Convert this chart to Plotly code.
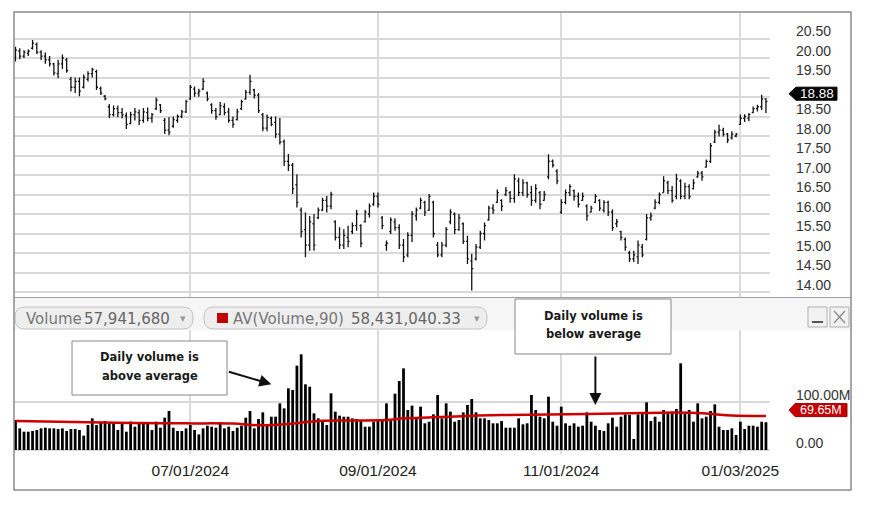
import pandas as pd
import plotly.graph_objects as go

# ---------------- data ----------------
market_holidays = ["2024-05-27", "2024-06-19", "2024-07-04", "2024-09-02",
                   "2024-11-28", "2024-12-25", "2025-01-01", "2025-01-09"]
sessions = [d.strftime("%Y-%m-%d") for d in pd.bdate_range("2024-05-01", "2025-01-14")
            if d.strftime("%Y-%m-%d") not in market_holidays]

opens = [
    20.00, 20.18, 20.05, 20.12, 20.25, 20.35, 20.15, 20.05, 19.95, 19.85,
    19.60, 19.85, 19.95, 19.45, 19.25, 19.40, 19.25, 19.45, 19.60, 19.65,
    19.22, 19.02, 18.75, 18.55, 18.70, 18.60, 18.52, 18.32, 18.55, 18.60,
    18.40, 18.60, 18.45, 18.70, 18.80, 18.40, 18.15, 18.25, 18.40, 18.50,
    18.62, 18.95, 19.20, 19.10, 19.20, 19.10, 18.80, 18.65, 18.55, 18.75,
    18.62, 18.40, 18.42, 18.70, 18.95, 19.12, 19.18, 19.05, 18.55, 18.20,
    18.45, 18.35, 18.05, 17.85, 17.35, 17.25, 16.75, 16.10, 15.60, 15.20,
    15.75, 15.90, 16.10, 16.35, 16.20, 15.80, 15.40, 15.20, 15.40, 15.55,
    15.70, 15.70, 15.80, 16.00, 16.25, 16.45, 15.90, 15.20, 15.55, 15.80,
    15.65, 15.20, 14.95, 15.45, 15.95, 16.15, 16.30, 16.10, 16.30, 15.20,
    14.95, 15.20, 15.80, 16.00, 15.60, 15.75, 15.30, 14.80, 14.85, 15.15,
    15.50, 15.85, 16.15, 16.30, 16.35, 16.50, 16.55, 16.40, 16.85, 16.55,
    16.80, 16.55, 16.35, 16.55, 16.35, 16.95, 17.35, 17.10, 16.05, 16.30,
    16.55, 16.60, 16.45, 16.35, 16.20, 16.05, 16.30, 16.35, 16.10, 16.30,
    16.05, 15.75, 15.55, 15.35, 15.00, 14.85, 14.90, 15.15, 15.35, 15.90,
    16.15, 16.30, 16.55, 16.80, 16.60, 16.45, 16.85, 16.45, 16.70, 16.65,
    16.95, 17.05, 17.20, 17.35, 17.85, 18.10, 18.15, 18.05, 17.95, 18.00,
    18.30, 18.45, 18.45, 18.60, 18.70, 18.75, 18.95]

highs = [
    20.29, 20.25, 20.20, 20.22, 20.46, 20.40, 20.20, 20.14, 20.05, 19.88,
    19.95, 20.09, 20.00, 19.52, 19.50, 19.50, 19.58, 19.66, 19.75, 19.70,
    19.27, 19.05, 18.82, 18.78, 18.78, 18.72, 18.60, 18.62, 18.72, 18.68,
    18.72, 18.73, 18.59, 18.99, 18.82, 18.46, 18.48, 18.50, 18.55, 18.67,
    18.93, 19.31, 19.27, 19.21, 19.48, 19.14, 18.84, 18.72, 18.87, 18.84,
    18.72, 18.50, 18.70, 18.93, 19.18, 19.57, 19.21, 19.10, 18.59, 18.55,
    18.50, 18.50, 18.46, 17.91, 17.54, 17.31, 17.02, 16.17, 16.04, 15.95,
    16.00, 16.17, 16.42, 16.46, 16.57, 15.84, 15.66, 15.61, 15.70, 15.78,
    16.10, 15.74, 16.10, 16.27, 16.55, 16.55, 15.95, 15.32, 15.91, 15.89,
    15.74, 15.36, 15.53, 16.08, 16.17, 16.42, 16.34, 16.51, 16.34, 15.28,
    15.28, 15.67, 16.12, 16.04, 16.00, 15.78, 15.44, 14.98, 15.23, 15.57,
    15.78, 16.21, 16.25, 16.63, 16.38, 16.69, 16.59, 17.02, 16.93, 16.89,
    16.83, 16.72, 16.76, 16.59, 16.59, 17.53, 17.40, 17.15, 16.38, 16.63,
    16.76, 16.63, 16.55, 16.55, 16.25, 16.21, 16.51, 16.38, 16.35, 16.34,
    16.12, 15.87, 15.57, 15.40, 15.06, 15.06, 15.32, 15.23, 16.00, 16.04,
    16.38, 16.55, 16.97, 16.85, 16.72, 17.03, 16.89, 16.80, 16.76, 16.89,
    17.10, 17.10, 17.40, 17.82, 18.16, 18.29, 18.21, 18.08, 18.12, 18.08,
    18.55, 18.56, 18.59, 18.76, 18.80, 19.06, 18.97]

lows = [
    19.91, 19.97, 20.00, 20.05, 20.22, 20.10, 19.95, 19.85, 19.78, 19.55,
    19.48, 19.72, 19.62, 19.14, 19.10, 19.02, 19.22, 19.40, 19.50, 19.18,
    19.05, 18.92, 18.46, 18.50, 18.48, 18.45, 18.18, 18.30, 18.40, 18.28,
    18.34, 18.38, 18.34, 18.67, 18.59, 18.05, 18.02, 18.21, 18.34, 18.46,
    18.59, 18.93, 19.01, 19.01, 19.18, 18.89, 18.57, 18.42, 18.53, 18.53,
    18.34, 18.21, 18.40, 18.67, 18.93, 19.06, 18.96, 18.59, 18.12, 18.12,
    18.25, 17.95, 17.78, 17.23, 17.10, 16.51, 16.17, 15.40, 14.89, 15.06,
    15.06, 15.87, 16.08, 16.04, 16.12, 15.32, 15.10, 15.10, 15.15, 15.49,
    15.57, 15.15, 15.78, 15.91, 16.21, 16.17, 15.61, 15.06, 15.49, 15.57,
    15.10, 14.77, 14.89, 15.28, 15.83, 16.12, 15.95, 16.08, 15.40, 14.89,
    14.89, 15.15, 15.74, 15.49, 15.57, 15.23, 14.72, 14.04, 14.81, 15.10,
    15.32, 15.83, 16.00, 16.29, 16.08, 16.46, 16.29, 16.29, 16.46, 16.46,
    16.42, 16.21, 16.29, 16.12, 16.34, 16.89, 17.19, 16.76, 16.00, 16.25,
    16.46, 16.34, 16.17, 16.34, 15.83, 16.04, 16.29, 16.08, 16.04, 15.95,
    15.57, 15.66, 15.32, 15.06, 14.77, 14.77, 14.72, 14.89, 15.32, 15.83,
    16.12, 16.25, 16.55, 16.51, 16.29, 16.38, 16.38, 16.38, 16.38, 16.63,
    16.93, 16.85, 17.19, 17.31, 17.82, 17.99, 17.99, 17.82, 17.91, 17.97,
    18.29, 18.36, 18.38, 18.59, 18.63, 18.67, 18.59]

closes = [
    20.20, 20.05, 20.15, 20.18, 20.38, 20.15, 20.05, 19.95, 19.85, 19.62,
    19.85, 20.00, 19.68, 19.25, 19.40, 19.15, 19.50, 19.60, 19.70, 19.25,
    19.10, 18.95, 18.55, 18.70, 18.60, 18.55, 18.30, 18.55, 18.62, 18.40,
    18.62, 18.45, 18.55, 18.92, 18.65, 18.15, 18.10, 18.42, 18.50, 18.62,
    18.88, 19.25, 19.10, 19.15, 19.40, 18.95, 18.65, 18.50, 18.78, 18.60,
    18.40, 18.30, 18.62, 18.88, 19.12, 19.40, 19.05, 18.65, 18.20, 18.48,
    18.30, 18.05, 17.85, 17.35, 17.25, 16.65, 16.30, 15.55, 15.20, 15.80,
    15.20, 16.10, 16.35, 16.20, 16.50, 15.40, 15.20, 15.45, 15.30, 15.70,
    16.00, 15.25, 16.05, 16.20, 16.45, 16.25, 15.70, 15.25, 15.85, 15.65,
    15.20, 14.90, 15.45, 16.00, 16.10, 16.35, 16.05, 16.45, 15.50, 14.95,
    15.20, 15.60, 16.05, 15.60, 15.90, 15.30, 14.85, 14.60, 15.15, 15.50,
    15.70, 16.15, 16.10, 16.55, 16.20, 16.60, 16.40, 16.90, 16.55, 16.80,
    16.50, 16.35, 16.65, 16.25, 16.50, 17.35, 17.25, 16.85, 16.30, 16.55,
    16.70, 16.45, 16.25, 16.45, 15.95, 16.15, 16.45, 16.15, 16.30, 16.05,
    15.65, 15.80, 15.40, 15.15, 14.85, 14.95, 15.20, 14.95, 15.90, 15.95,
    16.30, 16.50, 16.85, 16.60, 16.35, 16.90, 16.45, 16.70, 16.45, 16.80,
    17.05, 16.95, 17.35, 17.75, 18.10, 18.15, 18.05, 17.90, 18.05, 18.05,
    18.45, 18.50, 18.55, 18.70, 18.75, 18.95, 18.88]

volume_m = [
    62.5, 45.1, 38.2, 38.2, 39.6, 41.7, 45.1, 46.5, 45.1, 45.1,
    43.8, 45.1, 39.6, 43.8, 43.8, 41.7, 29.9, 52.1, 66.0, 52.1,
    59.0, 60.4, 55.6, 55.6, 41.7, 55.6, 38.2, 59.0, 48.6, 57.6,
    57.6, 55.6, 41.7, 59.0, 46.5, 67.4, 81.3, 46.5, 39.6, 39.6,
    45.1, 52.1, 41.7, 32.6, 45.1, 50.7, 48.6, 46.5, 57.6, 45.1,
    48.6, 39.6, 46.5, 50.7, 67.4, 81.3, 45.1, 64.6, 78.5, 52.1,
    69.4, 69.4, 97.2, 86.8, 128.5, 125.0, 175.7, 199.3, 136.8, 131.9,
    76.4, 66.0, 60.4, 52.1, 118.1, 79.9, 71.5, 69.4, 69.4, 66.0,
    64.6, 62.5, 48.6, 48.6, 59.0, 60.4, 60.4, 97.2, 62.5, 117.4,
    143.8, 170.1, 83.3, 92.4, 64.6, 90.3, 55.6, 59.0, 74.3, 114.6,
    66.0, 97.2, 79.9, 59.0, 62.5, 78.5, 93.8, 106.3, 78.5, 66.0,
    66.0, 62.5, 55.6, 55.6, 60.4, 46.5, 46.5, 46.5, 66.0, 53.5,
    55.6, 114.6, 83.3, 69.4, 66.0, 111.1, 59.0, 50.7, 90.3, 55.6,
    50.7, 55.6, 48.6, 50.7, 78.5, 59.0, 50.7, 41.7, 39.6, 55.6,
    67.4, 48.6, 69.4, 74.3, 72.9, 22.9, 74.3, 76.4, 99.3, 60.4,
    69.4, 59.0, 83.3, 76.4, 79.9, 85.4, 180.6, 76.4, 83.3, 59.0,
    97.2, 66.0, 69.4, 81.3, 95.1, 48.6, 41.7, 41.7, 45.1, 31.3,
    59.0, 43.8, 50.7, 50.7, 48.6, 59.0, 57.9]

# AV(Volume,90) at a set of sessions
avg_index = [0, 17, 28, 40, 51, 57, 63, 67, 71, 79, 87, 91, 98, 106, 114, 125,
             141, 155, 160, 164, 168, 176]
avg_volume_m = [60.4, 58.0, 56.5, 55.5, 55.0, 51.5, 53.5, 57.0, 60.5, 61.5, 62.5,
                66.0, 68.0, 71.0, 73.0, 74.0, 76.0, 78.0, 77.0, 74.5, 72.0, 70.8]

date_ticks = ["2024-07-01", "2024-09-03", "2024-11-01", "2025-01-03"]
date_tick_labels = ["07/01/2024", "09/01/2024", "11/01/2024", "01/03/2025"]
price_ticks = [14.0, 14.5, 15.0, 15.5, 16.0, 16.5, 17.0, 17.5, 18.0, 18.5,
               19.0, 19.5, 20.0, 20.5]
volume_ticks = [0, 100]
volume_tick_labels = ["0.00", "100.00M"]
last_price = 18.88
last_avg = 69.65
last_avg_label = "69.65M"
header_volume = "57,941,680"
header_avg = "58,431,040.33"
above_target = (60, 137)   # (session index, volume M) the arrow points at
below_target = (136, 94)

# ---------------- geometry helpers (page pixels -> paper) ----------------
W, H = 870, 507
PL, PT, PR, PB = 14, 12, 770, 454


def fx(X):
    return (X - PL) / (PR - PL)


def fy(Y):
    return (PB - Y) / (PB - PT)


def P(X, Y):
    return f"{fx(X):.5f},{fy(Y):.5f}"


def rounded(X0, Y0, X1, Y1, r):
    return (f"M{P(X0 + r, Y0)} L{P(X1 - r, Y0)} Q{P(X1, Y0)} {P(X1, Y0 + r)} "
            f"L{P(X1, Y1 - r)} Q{P(X1, Y1)} {P(X1 - r, Y1)} L{P(X0 + r, Y1)} "
            f"Q{P(X0, Y1)} {P(X0, Y1 - r)} L{P(X0, Y0 + r)} Q{P(X0, Y0)} {P(X0 + r, Y0)} Z")


shapes = []
annotations = []


def rect(X0, Y0, X1, Y1, fill="rgba(0,0,0,0)", line="#888", lw=1):
    shapes.append(dict(type="rect", xref="paper", yref="paper", x0=fx(X0), x1=fx(X1),
                       y0=fy(Y1), y1=fy(Y0), fillcolor=fill,
                       line=dict(color=line, width=lw), layer="above"))


def line(X0, Y0, X1, Y1, color="#999", lw=1):
    shapes.append(dict(type="line", xref="paper", yref="paper", x0=fx(X0), x1=fx(X1),
                       y0=fy(Y0), y1=fy(Y1), line=dict(color=color, width=lw), layer="above"))


def text(X, Y, s, size=13, color="#333", family="DejaVu Sans", anchor="left"):
    annotations.append(dict(xref="paper", yref="paper", x=fx(X), y=fy(Y), text=s,
                            showarrow=False, xanchor=anchor, yanchor="middle",
                            font=dict(family=family, size=size, color=color)))


# ---------------- traces ----------------
fig = go.Figure()
fig.add_trace(go.Ohlc(
    x=sessions, open=opens, high=highs, low=lows, close=closes,
    increasing=dict(line=dict(color="#111111", width=1.3)),
    decreasing=dict(line=dict(color="#111111", width=1.3)),
    tickwidth=0.35, xaxis="x", yaxis="y", showlegend=False, hoverinfo="skip"))
fig.add_trace(go.Bar(
    x=sessions, y=volume_m, marker=dict(color="#000000", line=dict(width=0)),
    xaxis="x2", yaxis="y2", showlegend=False, hoverinfo="skip"))
fig.add_trace(go.Scatter(
    x=[sessions[i] for i in avg_index], y=avg_volume_m, mode="lines",
    line=dict(color="#cc0000", width=2.5, shape="spline", smoothing=1.0),
    xaxis="x2", yaxis="y2", showlegend=False, hoverinfo="skip"))

# ---------------- decorations ----------------
# header band between the panels
rect(14, 297, 851, 330, fill="#f6f6f6", line="rgba(0,0,0,0)", lw=0)
line(14, 297.5, 851, 297.5, color="#a0a0a0", lw=1)
# pills
shapes.append(dict(type="path", xref="paper", yref="paper", path=rounded(15, 307, 193, 329, 10),
                   fillcolor="#eeeeee", line=dict(color="#c4c4c4", width=1), layer="above"))
shapes.append(dict(type="path", xref="paper", yref="paper", path=rounded(204, 307, 487, 329, 10),
                   fillcolor="#eeeeee", line=dict(color="#c4c4c4", width=1), layer="above"))
text(24, 318.5, "Volume", size=15, color="#777777")
text(82, 318.5, header_volume, size=15, color="#666666")
text(183, 318, "▾", size=11, color="#999999", anchor="center")
rect(217, 313, 228, 323, fill="#c00000", line="#c00000", lw=0)
text(231, 318.5, "AV(Volume,90)", size=15, color="#777777")
text(349, 318.5, header_avg, size=15, color="#666666")
text(477, 318, "▾", size=11, color="#999999", anchor="center")
# window buttons
rect(808, 307, 827, 327, fill="#f2f2f2", line="#b0b0b0")
line(812, 322, 823, 322, color="#555555", lw=2)
rect(830, 307, 849, 327, fill="#f2f2f2", line="#b0b0b0")
line(834, 311, 845, 323, color="#888888", lw=1.2)
line(845, 311, 834, 323, color="#888888", lw=1.2)

# callout boxes
rect(72, 341, 227, 395, fill="#ffffff", line="#888888")
text(149.5, 357, "<b>Daily volume is</b>", size=11.5, color="#1a1a1a", anchor="center")
text(149.5, 376, "<b>above average</b>", size=11.5, color="#1a1a1a", anchor="center")
rect(515, 299, 671, 354, fill="#ffffff", line="#888888")
text(593, 316, "<b>Daily volume is</b>", size=11.5, color="#1a1a1a", anchor="center")
text(593, 334, "<b>below average</b>", size=11.5, color="#1a1a1a", anchor="center")
annotations.append(dict(xref="x2", yref="y2", x=sessions[above_target[0]], y=above_target[1],
                        text="", showarrow=True, ax=-44, ay=-13, arrowhead=2, arrowsize=1.2,
                        arrowwidth=2, arrowcolor="#111111", standoff=0))
annotations.append(dict(xref="x2", yref="y2", x=sessions[below_target[0]], y=below_target[1],
                        text="", showarrow=True, ax=0, ay=-50, arrowhead=2, arrowsize=1.2,
                        arrowwidth=2, arrowcolor="#111111", standoff=0))

# last-value tags (the tag hides the 19.00 level label, as in the original)
shapes.append(dict(type="path", xref="paper", yref="y", ysizemode="pixel", yanchor=last_price,
                   path=f"M{fx(789):.5f},8 L{fx(796):.5f},14.5 L{fx(837):.5f},14.5 "
                        f"L{fx(837):.5f},1.5 L{fx(796):.5f},1.5 Z",
                   fillcolor="#000000", line=dict(color="#000000", width=1), layer="above"))
annotations.append(dict(xref="paper", yref="y", x=fx(816.5), y=last_price, yshift=8,
                        text=f"{last_price:.2f}", showarrow=False, xanchor="center",
                        yanchor="middle", font=dict(family="Liberation Sans", size=13.5,
                                                    color="#ffffff")))
shapes.append(dict(type="path", xref="paper", yref="y2", ysizemode="pixel", yanchor=last_avg,
                   path=f"M{fx(789):.5f},6.5 L{fx(795):.5f},13 L{fx(847):.5f},13 "
                        f"L{fx(847):.5f},0 L{fx(795):.5f},0 Z",
                   fillcolor="#c40000", line=dict(color="#a00000", width=1), layer="above"))
annotations.append(dict(xref="paper", yref="y2", x=fx(821), y=last_avg, yshift=6.5,
                        text=last_avg_label, showarrow=False, xanchor="center",
                        yanchor="middle", font=dict(family="Liberation Sans", size=12.5,
                                                    color="#ffffff")))

# outer frame
rect(14, 12, 851, 490, line="#8a8a8a", lw=1.5)

# ---------------- layout ----------------
xcommon = dict(type="category", categoryorder="array", categoryarray=sessions,
               range=[-0.35, 176.95], tickvals=date_ticks, showgrid=True,
               gridcolor="#dcdcdc", gridwidth=2, zeroline=False, showline=False,
               fixedrange=True, rangeslider=dict(visible=False))
ycommon = dict(side="right", showgrid=True, gridcolor="#d9d9d9", gridwidth=1.5,
               zeroline=False, showline=False, ticks="",
               ticklabelposition="outside", ticklabelstandoff=25, ticklabelshift=-7,
               tickfont=dict(family="Liberation Sans", size=14, color="#333333"),
               fixedrange=True)

price_tick_text = ["" if v == 19.0 else f"{v:.2f}" for v in price_ticks]

fig.update_layout(
    width=W, height=H,
    margin=dict(l=PL, r=W - PR, t=PT, b=H - PB),
    paper_bgcolor="#ffffff", plot_bgcolor="#ffffff",
    showlegend=False, bargap=0.35,
    xaxis=dict(**xcommon, anchor="y", showticklabels=False, ticks=""),
    xaxis2=dict(**xcommon, anchor="y2", ticktext=date_tick_labels, ticks="outside",
                ticklen=2, tickcolor="rgba(0,0,0,0)",
                tickfont=dict(family="Liberation Sans", size=15.5, color="#222222")),
    yaxis=dict(**ycommon, domain=[fy(297), 1.0], range=[13.872, 21.18],
               tickvals=price_ticks, ticktext=price_tick_text),
    yaxis2=dict(**ycommon, domain=[0.0, fy(330)], range=[-8.3, 250],
                tickvals=volume_ticks, ticktext=volume_tick_labels),
    shapes=shapes, annotations=annotations,
)

# the page body normally adds an 8px margin; remove it so the figure fills the window
fig.write_html("out.html", config={"displayModeBar": False},
               post_script="document.body.style.margin='0px';")
